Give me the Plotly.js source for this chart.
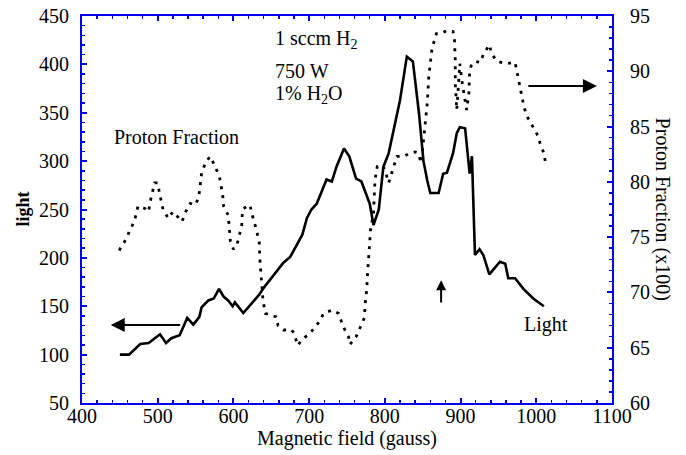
<!DOCTYPE html>
<html>
<head>
<meta charset="utf-8">
<script src="https://cdn.plot.ly/plotly-3.0.1.min.js"></script>
<style>html,body{margin:0;padding:0;background:#fff;}#chart{width:686px;height:455px;}</style>
</head>
<body>
<div id="chart"></div>
<script>
// Light (left axis) vs magnetic field (gauss)
const lightField = [450,462,477,488,503,511,518,529,539,547,555,558,567,574,581,587,593,599,602,613,623,634,640,655,666,675,680,691,697,703,710,716,723,730,736,746,753,762,769,780,785,792,798,805,811,820,829,837,845,851,856,860,871,877,882,890,895,899,906,910,912,915,917,919,925,930,938,946,952,959,963,972,983,996,1010];
const lightValues = [100,100,111,112,121,112,117,120,138,131,139,149,156,158,168,160,156,150,154,143,152,162,169,184,195,201,208,224,241,250,256,268,281,279,294,313,305,282,279,256,234,250,294,308,329,363,408,403,350,300,280,267,267,287,288,308,329,335,334,298,287,305,250,203,209,203,183,191,196,194,179,179,168,158,150];

// Proton fraction (x100, right axis) vs magnetic field (gauss)
const protonField = [449,459,463,469,474,483,488,490,496,500,502,505,507,514,520,527,532,537,543,549,554,558,563,569,576,582,586,587,593,595,596,600,605,608,611,612,618,622,624,629,634,635,637,639,642,648,656,659,666,677,680,685,690,701,708,714,719,730,739,745,752,754,762,767,773,774,776,777,779,781,785,787,790,797,800,805,809,816,825,833,840,844,848,853,856,858,860,862,865,868,873,883,890,892,893,893,895,899,902,905,908,911,912,914,919,926,930,938,941,948,961,972,975,979,984,988,996,1002,1005,1010,1012];
const protonValues = [73.8,74.9,75.6,76.4,77.8,77.6,77.3,78.2,79.9,79.9,79.1,78.2,77.5,76.7,77.3,76.8,76.4,77.3,78.05,77.9,78.5,80.8,81.7,82.3,81.4,80.3,78.7,77.8,77.0,75.5,74.6,73.9,74.4,75.2,76.1,77.5,77.8,77.9,77.2,76.0,74.6,72.9,71.1,69.3,68.1,68.0,67.8,67.0,66.6,66.6,66.3,65.2,65.7,66.3,66.9,67.4,68.1,68.4,68.1,66.9,66.0,65.3,66.0,66.8,67.7,69.0,70.2,71.5,73.8,75.6,77.2,80.2,81.4,81.5,81.1,79.9,80.8,82.3,82.3,82.6,82.7,82.6,81.7,85.0,87.1,89.5,91.0,91.9,92.7,93.4,93.4,93.7,93.6,92.8,91.0,88.9,86.5,90.7,89.0,87.5,86.5,88.0,90.0,90.5,90.9,90.8,91.5,92.4,91.6,90.9,90.7,90.8,89.8,88.3,86.7,85.9,85.0,84.2,83.5,82.6,81.8];

const F = "Liberation Serif, Times New Roman, serif";
const AX = "#0000ee";
const FS = 20;

const traces = [
  {x: lightField, y: lightValues, type: "scatter", mode: "lines", name: "Light",
   line: {color: "#000", width: 2.6}, yaxis: "y"},
  {x: protonField, y: protonValues, type: "scatter", mode: "lines", name: "Proton Fraction",
   line: {color: "#000", width: 2.8, dash: "3px,6px"}, yaxis: "y2"}
];

function note(x, y, text, extra) {
  return Object.assign({xref: "paper", yref: "paper", x: x, y: y, text: text, showarrow: false,
    xanchor: "center", yanchor: "middle", font: {family: F, size: FS, color: "#000"}}, extra || {});
}

const layout = {
  width: 686, height: 455,
  margin: {l: 82, r: 74, t: 16, b: 52},
  paper_bgcolor: "#fff", plot_bgcolor: "#fff",
  showlegend: false,
  font: {family: F, size: FS, color: "#000"},
  xaxis: {
    range: [400, 1100], dtick: 100, tick0: 400,
    showgrid: false, zeroline: false,
    showline: true, linecolor: AX, linewidth: 2, mirror: "ticks",
    ticks: "inside", ticklen: 5, tickwidth: 2, tickcolor: AX,
    minor: {dtick: 20, ticks: "inside", ticklen: 3, tickwidth: 1.5, tickcolor: AX},
    tickfont: {family: F, size: FS, color: "#000"},
    ticklabelstandoff: -6,
    title: {text: "Magnetic field (gauss)", font: {family: F, size: FS}, standoff: 5}
  },
  yaxis: {
    range: [50, 450], dtick: 50, tick0: 50,
    showgrid: false, zeroline: false,
    showline: true, linecolor: AX, linewidth: 2,
    ticks: "inside", ticklen: 5, tickwidth: 2, tickcolor: AX,
    minor: {dtick: 10, ticks: "inside", ticklen: 3, tickwidth: 1.5, tickcolor: AX},
    tickfont: {family: F, size: FS, color: "#000"},
    ticklabelstandoff: 7,
    title: {text: ""}
  },
  yaxis2: {
    range: [60, 95], dtick: 5, tick0: 60,
    overlaying: "y", side: "right",
    showgrid: false, zeroline: false,
    showline: true, linecolor: AX, linewidth: 2,
    ticks: "inside", ticklen: 5, tickwidth: 2, tickcolor: AX,
    minor: {dtick: 1, ticks: "inside", ticklen: 3, tickwidth: 1.5, tickcolor: AX},
    tickfont: {family: F, size: FS, color: "#000"},
    ticklabelstandoff: 12,
    title: {text: ""}
  },
  annotations: [
    note(-0.113, 0.5, "<b>light</b>", {textangle: -90, font: {family: F, size: 18, color: "#000"}}),
    note(1.096, 0.5, "Proton Fraction (x100)", {textangle: 90}),
    note(0.36, 0.938, "1 sccm H<sub>2</sub>", {xanchor: "left"}),
    note(0.36, 0.858, "750 W", {xanchor: "left"}),
    note(0.36, 0.797, "1% H<sub>2</sub>O", {xanchor: "left"}),
    note(0.179, 0.687, "Proton Fraction"),
    note(0.875, 0.204, "Light"),
    // arrows
    {xref: "x", yref: "y", axref: "x", ayref: "y", x: 438, y: 130.6, ax: 531.7, ay: 130.6,
     text: "", showarrow: true, arrowhead: 2, arrowsize: 1.4, arrowwidth: 2, arrowcolor: "#000"},
    {xref: "x", yref: "y", axref: "x", ayref: "y", x: 1080, y: 377.6, ax: 987.5, ay: 377.6,
     text: "", showarrow: true, arrowhead: 2, arrowsize: 1.4, arrowwidth: 2, arrowcolor: "#000"},
    {xref: "x", yref: "y", axref: "x", ayref: "y", x: 874.3, y: 177, ax: 874.3, ay: 152.3,
     text: "", showarrow: true, arrowhead: 2, arrowsize: 1, arrowwidth: 2, arrowcolor: "#000"}
  ]
};

Plotly.newPlot("chart", traces, layout, {displayModeBar: false, staticPlot: true});
</script>
</body>
</html>
